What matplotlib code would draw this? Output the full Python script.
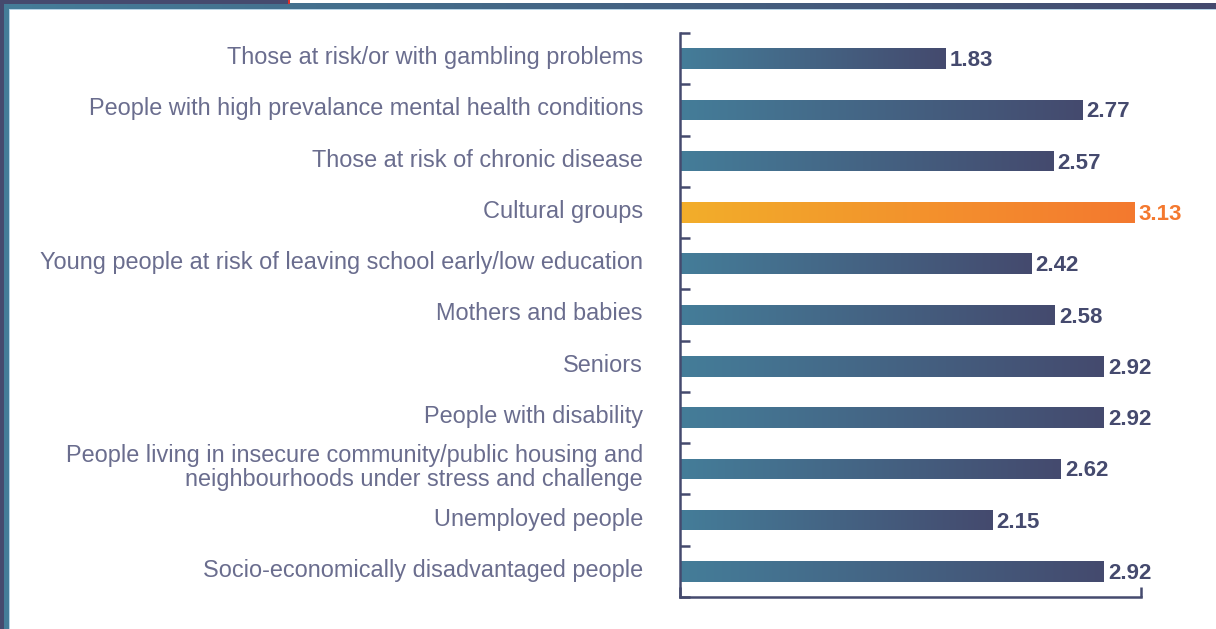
import numpy as np
import matplotlib
matplotlib.use("Agg")
import matplotlib.pyplot as plt
from matplotlib.colors import LinearSegmentedColormap
from matplotlib.patches import Rectangle

categories = [
    "Those at risk/or with gambling problems",
    "People with high prevalance mental health conditions",
    "Those at risk of chronic disease",
    "Cultural groups",
    "Young people at risk of leaving school early/low education",
    "Mothers and babies",
    "Seniors",
    "People with disability",
    "People living in insecure community/public housing and\nneighbourhoods under stress and challenge",
    "Unemployed people",
    "Socio-economically disadvantaged people",
]
scores = [1.83, 2.77, 2.57, 3.13, 2.42, 2.58, 2.92, 2.92, 2.62, 2.15, 2.92]
highlight = "Cultural groups"

NAVY = "#454a6e"
TEAL = "#447d99"
ORANGE_L = "#f2ae2a"
ORANGE_R = "#f4792f"
LABEL_GREY = "#6a6d8e"

blue_cmap = LinearSegmentedColormap.from_list("blue", [TEAL, NAVY])
orange_cmap = LinearSegmentedColormap.from_list("orange", [ORANGE_L, ORANGE_R])
grad = np.linspace(0, 1, 256).reshape(1, -1)

W, H = 1216, 629
fig = plt.figure(figsize=(W / 100, H / 100), dpi=100)
fig.patch.set_facecolor("white")

# decorative page frame (pixel coordinates)
deco = fig.add_axes([0, 0, 1, 1], zorder=-5)
deco.set_xlim(0, W)
deco.set_ylim(H, 0)
deco.axis("off")
deco.add_patch(Rectangle((0, 0), 288, 3.5, color=NAVY, lw=0))
deco.add_patch(Rectangle((288, 0), 1.5, 3.5, color="#e0302a", lw=0))
deco.imshow(grad, cmap=blue_cmap, extent=[4, W, 9, 3.5], aspect="auto")
deco.add_patch(Rectangle((0, 0), 4, H, color=NAVY, lw=0))
deco.add_patch(Rectangle((4, 3.5), 5, H, color=TEAL, lw=0))
deco.add_patch(Rectangle((9, 9), 1.2, H, color="#b8d4e6", lw=0))
deco.add_patch(Rectangle((10, 9), W, 1.0, color="#b8d4e6", lw=0))

ax = fig.add_axes([680 / W, 1 - 597 / H, (1141 - 680) / W, (597 - 33) / H])
ax.set_facecolor("none")
xmax = 3.175
ax.set_xlim(0, xmax)
ax.set_ylim(len(categories) - 0.5, -0.5)

ypos = np.arange(len(categories))
bar_h = 0.4
bars = ax.barh(ypos, scores, height=bar_h, color="none", lw=0)
for cat, y, v, b in zip(categories, ypos, scores, bars):
    is_hi = cat == highlight
    cmap = orange_cmap if is_hi else blue_cmap
    im = ax.imshow(grad, cmap=cmap, aspect="auto",
                   extent=[0, v, y + bar_h / 2, y - bar_h / 2], zorder=2)
    im.set_clip_path(b)
    ax.text(v + 0.03, y + 0.04, f"{v:.2f}", va="center", ha="left",
            fontsize=16, fontweight="bold", family="Liberation Sans",
            color=ORANGE_R if is_hi else NAVY)
    ax.text(-0.255, y - 0.02, cat, va="center", ha="right", fontsize=16.9,
            family="Liberation Sans", color=LABEL_GREY, linespacing=1.05)

ax.set_ylim(len(categories) - 0.5, -0.5)
ax.set_xlim(0, xmax)

for s in ["top", "right"]:
    ax.spines[s].set_visible(False)
for s in ["left", "bottom"]:
    ax.spines[s].set_color(NAVY)
    ax.spines[s].set_linewidth(1.8)
    ax.spines[s].set_zorder(3)

ax.set_yticks(np.arange(-0.5, len(categories), 1.0))
ax.set_yticklabels([])
ax.set_xticks([0, xmax])
ax.set_xticklabels([])
ax.tick_params(axis="y", direction="in", length=7, width=1.8, color=NAVY)
ax.tick_params(axis="x", direction="in", length=7, width=1.8, color=NAVY)

fig.savefig("out.png", dpi=100, facecolor="white")
